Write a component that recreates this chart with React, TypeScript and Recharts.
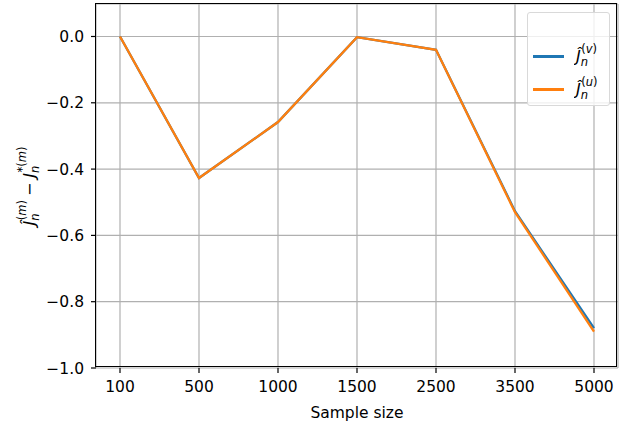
import React from "react"
import { LineChart, Line, XAxis, YAxis, CartesianGrid } from "recharts"

const categories = ["100", "500", "1000", "1500", "2500", "3500", "5000"]
const seriesV = [0.0, -0.427, -0.258, -0.002, -0.04, -0.527, -0.88]
const seriesU = [0.0, -0.427, -0.258, -0.002, -0.04, -0.53, -0.89]
const yTicks = [0, -0.2, -0.4, -0.6, -0.8, -1.0]

const data = categories.map((c, i) => ({ size: c, v: seriesV[i], u: seriesU[i] }))

const FONT = "DejaVu Sans, sans-serif"
const FS = 15.5
const BLUE = "#1f77b4"
const ORANGE = "#ff7f0e"

const fmt = (v: number) => (v < 0 ? "\u2212" + Math.abs(v).toFixed(1) : v.toFixed(1))

// J-hat with sub n and a superscript, for the legend
function JLabel({ sup }: { sup: string }) {
  return (
    <svg width={40} height={30} style={{ display: "block" }}>
      <text x={2} y={20} fontFamily={FONT} fontSize={16} fill="#000">
        <tspan fontStyle="italic">Ĵ</tspan>
        <tspan fontSize={11.5} fontStyle="italic" dy={4}>n</tspan>
        <tspan fontSize={11.5} dx={-6.8} dy={-13}>(</tspan>
        <tspan fontSize={11.5} fontStyle="italic">{sup}</tspan>
        <tspan fontSize={11.5}>)</tspan>
      </text>
    </svg>
  )
}

function LegendBox() {
  const row = (color: string, sup: string) => (
    <div style={{ display: "flex", alignItems: "center", height: 33 }}>
      <div style={{ width: 35, height: 2.3, background: color, marginLeft: 5, marginRight: 10 }} />
      <JLabel sup={sup} />
    </div>
  )
  return (
    <div
      style={{
        position: "absolute",
        left: 527,
        top: 12,
        width: 83,
        height: 94,
        border: "1px solid #d9d9d9",
        borderRadius: 3,
        background: "rgba(255,255,255,0.8)",
        boxSizing: "border-box",
        paddingTop: 27,
      }}
    >
      {row(BLUE, "v")}
      {row(ORANGE, "u")}
    </div>
  )
}

function YLabel() {
  return (
    <text
      transform="translate(35,186) rotate(-90)"
      textAnchor="middle"
      fontFamily={FONT}
      fontSize={16}
      fill="#000"
    >
      <tspan fontStyle="italic">Ĵ</tspan>
      <tspan fontSize={11.5} fontStyle="italic" dy={4}>n</tspan>
      <tspan fontSize={11.5} dx={-6.8} dy={-13}>(</tspan>
      <tspan fontSize={11.5} fontStyle="italic">m</tspan>
      <tspan fontSize={11.5}>)</tspan>
      <tspan dy={9} dx={4}>−</tspan>
      <tspan fontStyle="italic" dx={5}>J</tspan>
      <tspan fontSize={11.5} fontStyle="italic" dy={4}>n</tspan>
      <tspan fontSize={11.5} dx={-6.8} dy={-13}>*(</tspan>
      <tspan fontSize={11.5} fontStyle="italic">m</tspan>
      <tspan fontSize={11.5}>)</tspan>
    </text>
  )
}

export default function App() {
  return (
    <div style={{ position: "absolute", left: 0, top: 0, width: 627, height: 428, background: "#fff" }}>
      <LineChart
        width={627}
        height={428}
        data={data}
        margin={{ top: 4, right: 9, left: 0, bottom: 0 }}
      >
        <CartesianGrid stroke="#b0b0b0" strokeWidth={1.2} />
        <XAxis
          dataKey="size"
          height={60}
          padding={{ left: 24, right: 24 }}
          tick={{ fontSize: FS, fill: "#000", fontFamily: FONT }}
          tickSize={5}
          tickMargin={8}
          axisLine={false}
          tickLine={{ stroke: "#000", strokeWidth: 1.2 }}
          interval={0}
          label={{ value: "Sample size", position: "insideBottom", offset: 10, fontSize: FS, fill: "#000", fontFamily: FONT }}
        />
        <YAxis
          type="number"
          domain={[-1.0, 0.098]}
          ticks={yTicks}
          width={96}
          tickFormatter={fmt}
          tick={{ fontSize: FS, fill: "#000", fontFamily: FONT }}
          tickSize={5}
          tickMargin={7}
          axisLine={false}
          tickLine={{ stroke: "#000", strokeWidth: 1.2 }}
          allowDataOverflow
          label={<YLabel />}
        />
        <Line dataKey="v" stroke={BLUE} strokeWidth={2.3} dot={false} isAnimationActive={false} />
        <Line dataKey="u" stroke={ORANGE} strokeWidth={2.3} dot={false} isAnimationActive={false} />
      </LineChart>
      <div
        style={{
          position: "absolute",
          left: 96,
          top: 4,
          width: 522,
          height: 364,
          border: "1.2px solid #000",
          boxSizing: "border-box",
          pointerEvents: "none",
          marginLeft: -0.6,
          marginTop: -0.6,
        }}
      />
      <LegendBox />
    </div>
  )
}
